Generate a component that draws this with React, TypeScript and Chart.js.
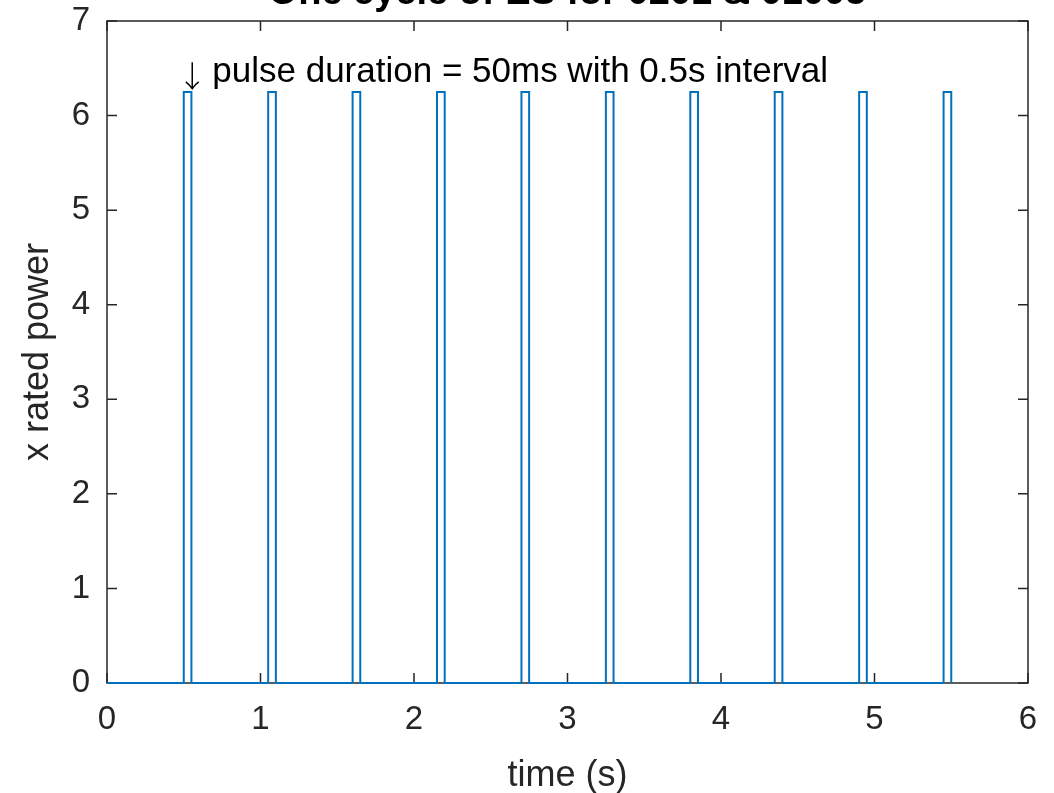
import React, { useEffect, useRef } from "react";
import { Chart, registerables } from "chart.js";

Chart.register(...registerables);

// ---- data ----
const timeValues = [
  0, 0.5, 0.5, 0.55, 0.55,
  1.05, 1.05, 1.1, 1.1,
  1.6, 1.6, 1.65, 1.65,
  2.15, 2.15, 2.2, 2.2,
  2.7, 2.7, 2.75, 2.75,
  3.25, 3.25, 3.3, 3.3,
  3.8, 3.8, 3.85, 3.85,
  4.35, 4.35, 4.4, 4.4,
  4.9, 4.9, 4.95, 4.95,
  5.45, 5.45, 5.5, 5.5,
];
const powerValues = [
  0, 0, 6.25, 6.25, 0,
  0, 6.25, 6.25, 0,
  0, 6.25, 6.25, 0,
  0, 6.25, 6.25, 0,
  0, 6.25, 6.25, 0,
  0, 6.25, 6.25, 0,
  0, 6.25, 6.25, 0,
  0, 6.25, 6.25, 0,
  0, 6.25, 6.25, 0,
  0, 6.25, 6.25, 0,
];
const xTicks = [0, 1, 2, 3, 4, 5, 6];
const yTicks = [0, 1, 2, 3, 4, 5, 6, 7];
const titleText = "One cycle of ES for 0201 & 01005";
const xLabel = "time (s)";
const yLabel = "x rated power";
const annotationArrow = "\u2193";
const annotationText = "pulse duration = 50ms with 0.5s interval";
const annotationAt = [0.51, 6.35];

const FONT = "'Liberation Sans', Arial, Helvetica, sans-serif";
const ARROW_FONT = "'Noto Sans CJK SC', 'DejaVu Sans', sans-serif";
const AXIS_COLOR = "#262626";
const LINE_COLOR = "#0072BD";
const TICK_LEN = 10;

const matlabAxesPlugin = {
  id: "matlabAxes",
  beforeDatasetsDraw(chart: any) {
    const { ctx, chartArea, scales } = chart;
    const { left, right, top, bottom } = chartArea;
    const x = scales.x;
    const y = scales.y;
    ctx.save();
    ctx.strokeStyle = AXIS_COLOR;
    ctx.lineWidth = 1.5;
    ctx.strokeRect(left, top, right - left, bottom - top);
    ctx.beginPath();
    x.ticks.forEach((t: any) => {
      const px = x.getPixelForValue(t.value);
      ctx.moveTo(px, bottom);
      ctx.lineTo(px, bottom - TICK_LEN);
      ctx.moveTo(px, top);
      ctx.lineTo(px, top + TICK_LEN);
    });
    y.ticks.forEach((t: any) => {
      const py = y.getPixelForValue(t.value);
      ctx.moveTo(left, py);
      ctx.lineTo(left + TICK_LEN, py);
      ctx.moveTo(right, py);
      ctx.lineTo(right - TICK_LEN, py);
    });
    ctx.stroke();
    ctx.restore();
  },
  afterDraw(chart: any) {
    const { ctx, chartArea, scales } = chart;
    const x = scales.x;
    const y = scales.y;
    const ax = x.getPixelForValue(annotationAt[0]);
    const ay = y.getPixelForValue(annotationAt[1]);
    ctx.save();
    ctx.fillStyle = "#000000";
    ctx.textBaseline = "alphabetic";
    // arrow glyph
    ctx.font = `300 30px ${ARROW_FONT}`;
    ctx.textAlign = "center";
    ctx.fillText(annotationArrow, ax + 7, ay + 5);
    // annotation text
    ctx.textAlign = "left";
    ctx.font = `35px ${FONT}`;
    ctx.fillText(annotationText, ax + 27, ay);
    // title (partly cut off at the top of the page)
    ctx.font = `bold 38px ${FONT}`;
    ctx.textAlign = "center";
    ctx.fillText(titleText, (chartArea.left + chartArea.right) / 2, 4);
    ctx.restore();
  },
};

export default function App() {
  const canvasRef = useRef<HTMLCanvasElement | null>(null);

  useEffect(() => {
    const canvas = canvasRef.current;
    if (!canvas) return;
    const points = timeValues.map((t, i) => ({ x: t, y: powerValues[i] }));
    const chart = new Chart(canvas, {
      type: "line",
      data: {
        datasets: [
          {
            data: points,
            borderColor: LINE_COLOR,
            borderWidth: 2,
            pointRadius: 0,
            fill: false,
            tension: 0,
            clip: false as any,
          },
        ],
      },
      options: {
        animation: false,
        responsive: false,
        devicePixelRatio: 1,
        events: [],
        layout: { padding: { top: 21, right: 26, left: 0, bottom: 0 } },
        plugins: {
          legend: { display: false },
          tooltip: { enabled: false },
          title: { display: false },
        },
        scales: {
          x: {
            type: "linear",
            min: 0,
            max: 6,
            afterBuildTicks: (scale: any) => {
              scale.ticks = xTicks.map((v) => ({ value: v }));
            },
            afterFit: (scale: any) => {
              scale.height = 110;
              scale.paddingLeft = 0;
              scale.paddingRight = 0;
            },
            grid: { display: false, drawTicks: false },
            border: { display: false },
            ticks: {
              color: AXIS_COLOR,
              font: { family: FONT, size: 33 },
              padding: 17,
              maxRotation: 0,
              autoSkip: false,
            },
            title: {
              display: true,
              text: xLabel,
              color: AXIS_COLOR,
              font: { family: FONT, size: 36 },
              padding: { top: 0, bottom: -5 },
            },
          },
          y: {
            type: "linear",
            min: 0,
            max: 7,
            afterBuildTicks: (scale: any) => {
              scale.ticks = yTicks.map((v) => ({ value: v }));
            },
            afterFit: (scale: any) => {
              scale.width = 107;
              scale.paddingTop = 0;
              scale.paddingBottom = 0;
            },
            grid: { display: false, drawTicks: false },
            border: { display: false },
            ticks: {
              color: AXIS_COLOR,
              font: { family: FONT, size: 33 },
              padding: 17,
              autoSkip: false,
            },
            title: {
              display: true,
              text: yLabel,
              color: AXIS_COLOR,
              font: { family: FONT, size: 36 },
              padding: { top: 16, bottom: 0 },
            },
          },
        },
      },
      plugins: [matlabAxesPlugin],
    });
    return () => chart.destroy();
  }, []);

  return (
    <div
      style={{
        position: "absolute",
        left: 0,
        top: 0,
        width: 1054,
        height: 793,
        background: "#ffffff",
      }}
    >
      <canvas
        ref={canvasRef}
        width={1054}
        height={793}
        style={{ width: 1054, height: 793, display: "block" }}
      />
    </div>
  );
}
